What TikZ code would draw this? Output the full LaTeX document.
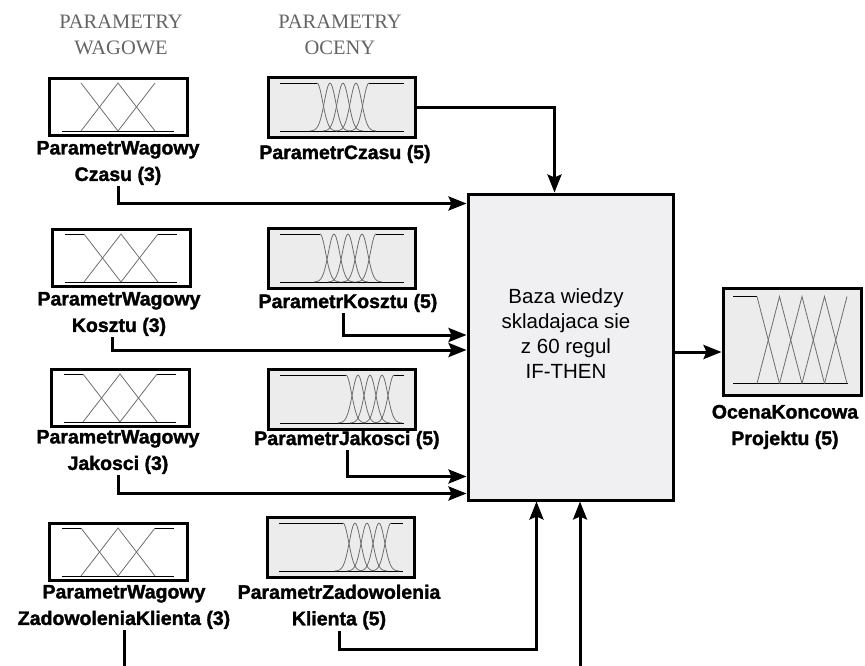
\documentclass[tikz,border=0pt]{standalone}
\usepackage{fontspec}
\setmainfont{Liberation Sans}
\newfontfamily\headfont{Liberation Serif}
\newfontfamily\labfont{Liberation Sans}[UprightFont={* Bold},FakeBold=1.6]
\usetikzlibrary{arrows.meta,calc}
\definecolor{boxgray}{RGB}{236,236,236}
\definecolor{kbgray}{RGB}{240,240,242}
\definecolor{headgray}{RGB}{100,100,100}
\definecolor{mfgray}{RGB}{110,110,110}

% three triangular sets, drawn round a box centre
\newcommand{\wagoweMF}{%
  \draw[mf] (-37,-24) -- (0,24);
  \draw[mf] (-37,24) -- (0,-24) -- (37,24);
  \draw[mf] (0,24) -- (37,-24);
  \draw[mfbase] (-56,24) -- (56,24);
  \draw[mfbase] (-56,-24) -- (-37,-24) (37,-24) -- (56,-24);
}
% five bell shaped sets: #1 first centre, #2 spacing
\newcommand{\ocenyMF}[2]{%
  \draw[mfbase] (-62,24) -- (62,24);
  \draw[mfbase] (-62,-24) -- (#1,-24) ({#1+4*#2},-24) -- (62,-24);
  \draw[mf] plot[domain=#1:#1+20,samples=20] (\x,{24-48/exp(((\x-(#1))/8)^2)});
  \foreach \i in {1,2,3}{
    \pgfmathsetmacro\cc{#1+\i*#2}
    \draw[mf] plot[domain=\cc-20:\cc+20,samples=30] (\x,{24-48/exp(((\x-\cc)/8)^2)});
  }
  \draw[mf] plot[domain=#1+4*#2-20:#1+4*#2,samples=20] (\x,{24-48/exp(((\x-(#1+4*#2))/8)^2)});
}

\begin{document}
\begin{tikzpicture}[x=1pt,y=-1pt,
    wbox/.style={draw,line width=3pt,fill=white,minimum width=138pt,minimum height=57pt,inner sep=0pt},
    obox/.style={wbox,fill=boxgray,minimum width=147pt,minimum height=60pt},
    lab/.style={font=\labfont\fontsize{19.5}{26.5}\selectfont,align=center,inner sep=1pt},
    head/.style={font=\headfont\fontsize{20.5}{26}\selectfont,text=headgray,align=center},
    mf/.style={mfgray,line width=0.8pt},
    mfbase/.style={black,line width=0.8pt},
    line/.style={line width=3pt},
    arr/.style={line width=3pt,-{Stealth[length=18pt,width=14pt,inset=3pt]}}]
  \useasboundingbox (0,0) rectangle (865,665);

  \node[head] (hw) at (121,35) {PARAMETRY\\WAGOWE};
  \node[head] (ho) at (340,35) {PARAMETRY\\OCENY};

  \node[wbox] (w1) at (118,107) {};
  \node[wbox] (w2) at (121,258) {};
  \node[wbox] (w3) at (120,398) {};
  \node[wbox] (w4) at (118,552) {};
  \node[obox] (o1) at (342,107) {};
  \node[obox] (o2) at (342,258) {};
  \node[obox] (o3) at (342,399) {};
  \node[obox] (o4) at (341,547) {};

  \begin{scope}[shift={(w1.center)}]
    \draw[mf] (-37,-24) -- (0,24);
    \draw[mf] (-37,24) -- (0,-24) -- (37,24);
    \draw[mf] (0,24) -- (37,-24);
    \draw[mfbase] (-56,24) -- (56,24);
  \end{scope}
  \begin{scope}[shift={(w2.center)}] \wagoweMF \end{scope}
  \begin{scope}[shift={(w3.center)}] \wagoweMF \end{scope}
  \begin{scope}[shift={(w4.center)}] \wagoweMF \end{scope}
  \begin{scope}[shift={(o1.center)}] \ocenyMF{-25}{13} \end{scope}
  \begin{scope}[shift={(o2.center)}] \ocenyMF{-22}{14} \end{scope}
  \begin{scope}[shift={(o3.center)}] \ocenyMF{4}{12} \end{scope}
  \begin{scope}[shift={(o4.center)}] \ocenyMF{2}{12} \end{scope}

  \node[lab] (w1lab) at (118,163) {ParametrWagowy\\Czasu (3)};
  \node[lab] (w2lab) at (119,314) {ParametrWagowy\\Kosztu (3)};
  \node[lab] (w3lab) at (118,452) {ParametrWagowy\\Jakosci (3)};
  \node[lab] (w4lab) at (124,607) {ParametrWagowy\\ZadowoleniaKlienta (3)};
  \node[lab] (o1lab) at (345,154) {ParametrCzasu (5)};
  \node[lab] (o2lab) at (348,303) {ParametrKosztu (5)};
  \node[lab] (o3lab) at (347,440) {ParametrJakosci (5)};
  \node[lab] (o4lab) at (339,607) {ParametrZadowolenia\\Klienta (5)};

  \node[draw,line width=3pt,fill=kbgray,minimum width=205pt,minimum height=306pt] (kb) at (570.5,347) {};
  \node[font=\fontsize{20.5}{25}\selectfont,align=center] (kbtxt) at (566,334)
    {Baza wiedzy\\skladajaca sie\\z 60 regul\\IF-THEN};

  \node[obox,minimum width=138pt,minimum height=107pt] (out) at (792,341.5) {};
  \begin{scope}[shift={(out.center)}]
    \draw[mfbase] (-59,42) -- (56,42);
    \draw[mfbase] (-59,-45) -- (-35,-45);
    \draw[mf] (-35,-45) -- (-12.5,42);
    \foreach \p in {-12.5,10,32.5}
      \draw[mf] (\p-22.5,42) -- (\p,-45) -- (\p+22.5,42);
    \draw[mf] (32.5,42) -- (55,-45);
  \end{scope}
  \node[lab] (outlab) at (785,427) {OcenaKoncowa\\Projektu (5)};

  \coordinate (wz) at (117,668);
  \coordinate (inz) at (580,668);
  \coordinate (kbout) at ($(kb.east)+(0,5)$);

  \draw[arr] (w1lab.south) |- ($(kb.north west)+(0,11)$);
  \draw[arr] (o1.east) -| ($(kb.north west)+(88,0)$);
  \draw[arr] ([xshift=-5pt]o2lab.south) |- ($(kb.west)+(0,-12)$);
  \draw[arr] ([xshift=-7pt]w2lab.south) |- ($(kb.west)+(0,3)$);
  \draw[arr] (o3lab.south) |- ($(kb.south west)+(0,-25)$);
  \draw[arr] (w3lab.south) |- ($(kb.south west)+(0,-8)$);
  \draw[arr] (o4lab.south) |- ($(kb.south west)+(70,148)$) -- ($(kb.south west)+(70,0)$);
  \draw[arr] (inz) -- (inz |- kb.south);
  \draw[line] (w4lab.south) -- (w4lab.south |- wz);
  \draw[arr] (kbout) -- (kbout -| out.west);
\end{tikzpicture}
\end{document}
